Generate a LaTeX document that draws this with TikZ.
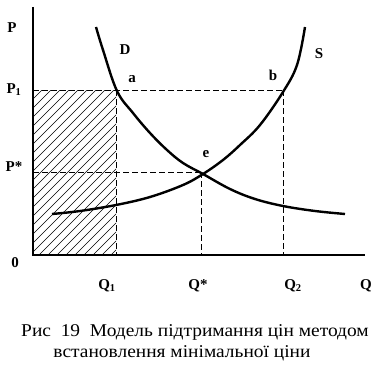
\documentclass[tikz,border=0pt]{standalone}
\usepackage{fontspec}
\setmainfont{Liberation Serif}
\newfontfamily\capfont[FakeStretch=1.08]{Liberation Serif}
\usepackage{tikz}

\begin{document}
\begin{tikzpicture}[x=1pt,y=-1pt,
  curve/.style={line width=2.4pt},
  guide/.style={line width=1pt, dash pattern=on 6pt off 3pt},
  lbl/.style={font=\fontsize{15}{15}\selectfont\bfseries, inner sep=0pt},
  captext/.style={font=\capfont\fontsize{18}{18}\selectfont, inner sep=0pt, anchor=base}]
\useasboundingbox (0,0) rectangle (380,369);
\begin{scope}
\clip (33,90) rectangle (116,255);
\foreach \c in {-132,-123,...,116}
  \draw[line width=.7pt] (\c,255) -- (\c+165,90);
\end{scope}
\draw[line width=1.6pt] (33,7) -- (33,255) -- (365,255);
\draw[guide] (33,90) -- (283,90);
\draw[guide] (33,172) -- (201,172);
\draw[guide] (116,90) -- (116,255);
\draw[guide] (201,172) -- (201,255);
\draw[guide] (283,90) -- (283,255);
\draw[curve] plot[smooth,tension=.6] coordinates {(96,27) (103,50) (117,91) (133,113) (150,133) (167,150) (183,163) (203,174) (230,189) (255,199) (283,206) (315,211) (345,214)};
\draw[curve] plot[smooth,tension=.6] coordinates {(52,214) (80,211) (116,205) (150,197) (183,185) (203,174) (223,160) (240,145) (260,125) (283,92) (297,65) (305,27)};
\node[lbl] (p) at (12,28) {P};
\node[lbl] (p1) at (14,90) {P\textsubscript{1}};
\node[lbl] (pstar) at (14,167) {P*};
\node[lbl] (zero) at (15,263) {0};
\node[lbl] (q1) at (107,286) {Q\textsubscript{1}};
\node[lbl] (qstar) at (198,286) {Q*};
\node[lbl] (q2) at (293,286) {Q\textsubscript{2}};
\node[lbl] (q) at (366,286) {Q};
\node[lbl] (d) at (125,50) {D};
\node[lbl] (a) at (132,79) {a};
\node[lbl] (b) at (273,75) {b};
\node[lbl] (e) at (206,154) {e};
\node[lbl] (s) at (319,54) {S};
\node[captext] (cap1) at (195,336) {Рис\ \ 19\ \ Модель підтримання цін методом};
\node[captext] (cap2) at (182,357) {встановлення мінімальної ціни};
\end{tikzpicture}
\end{document}
